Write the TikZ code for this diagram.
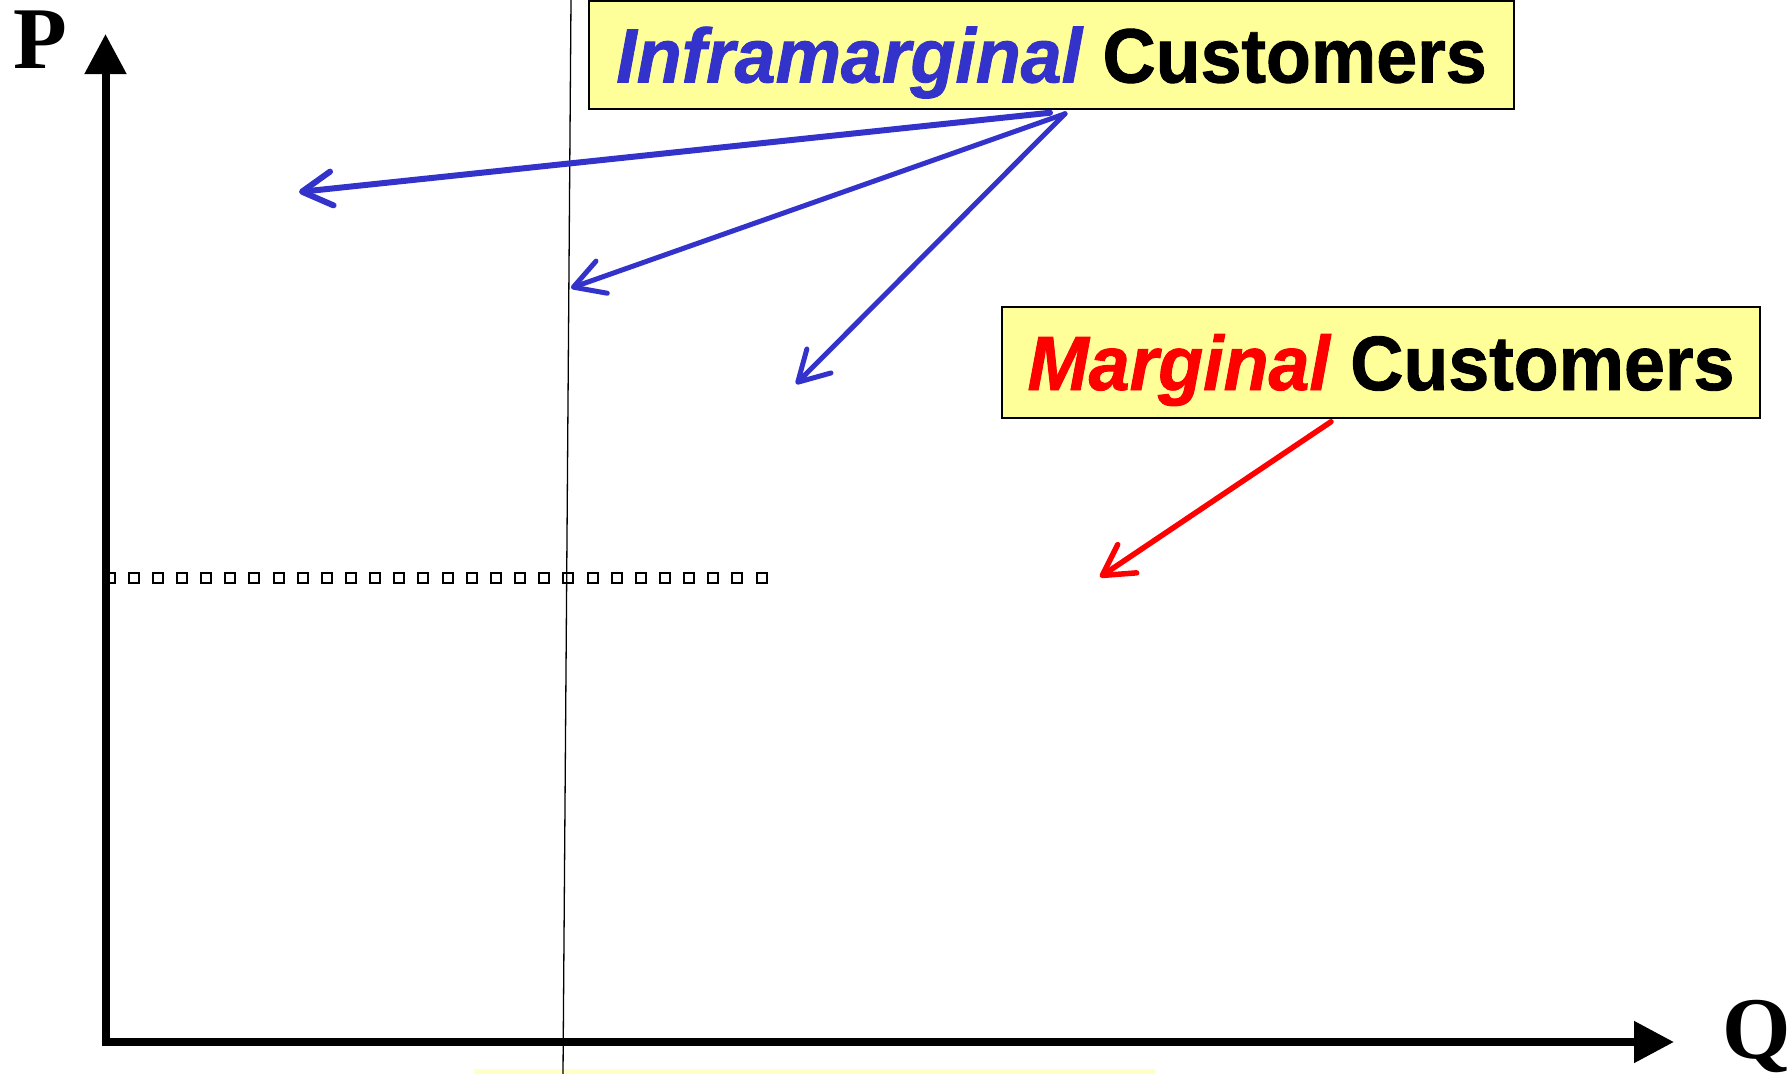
\documentclass[tikz,border=0pt]{standalone}
\usepackage{fontspec}
\usetikzlibrary{arrows.meta,calc}
\newfontfamily\labelfont[FakeStretch=0.955,FakeBold=1.2]{Liberation Sans}
\newfontfamily\axisfont{Liberation Serif}
\definecolor{infblue}{HTML}{3333CC}
\definecolor{notered}{HTML}{FF0000}
\definecolor{noteyellow}{HTML}{FFFF99}
\definecolor{paleyellow}{HTML}{FFFFC8}

\begin{document}
\begin{tikzpicture}[x=1pt,y=-1pt,
  notebox/.style={draw=black, line width=1.5pt, fill=noteyellow, inner sep=0pt,
    text height=55pt, text depth=0pt,
    font=\labelfont\bfseries\fontsize{77}{80}\selectfont},
  pointer/.style={line width=5pt, line cap=round,
    -{Straight Barb[length=30pt,width=34pt,round]}},
  axisline/.style={line width=8pt,
    {Triangle[length=40pt,width=40pt]}-{Triangle[length=40pt,width=40pt]}},
  axislabel/.style={font=\axisfont\bfseries\fontsize{88}{90}\selectfont,
    inner sep=0pt, anchor=base west}]
\useasboundingbox (0,0) rectangle (1792,1074);

% pale strip along the lower edge
\fill[paleyellow] (474,1069) rectangle (1155,1074);

% price level drawn as a row of hollow squares
\foreach \i in {0,...,27}
  \draw[line width=2pt] ({104.5+\i*24.15},572.5) rectangle ++(10,10.5);

% axes
\coordinate (ytip) at (105.5,34);
\coordinate (xtip) at (1674,1042);
\draw[axisline] (ytip) |- (xtip);
\node[axislabel] (plabel) at (13,68) {P};
\node[axislabel] (qlabel) at (1722,1058) {Q};

% thin vertical line
\coordinate (vtop) at (571,0);
\coordinate (vbot) at (563,1074);
\draw[line width=1.3pt] (vtop) -- (vbot);

% labels
\node[notebox, minimum width=925pt, minimum height=108pt] (inf) at (1051.5,55)
  {\textcolor{infblue}{\itshape Inframarginal} Customers};
\node[notebox, minimum width=758pt, minimum height=111pt] (mar) at (1381,362.5)
  {\textcolor{notered}{\itshape Marginal} Customers};

% pointers
\coordinate (t1) at (299,192);
\coordinate (t2) at (571,288);
\coordinate (t3) at (796,384);
\coordinate (t4) at (1100,577);
\draw[pointer, infblue, line width=6pt] ([xshift=-1.5pt,yshift=-3pt]inf.south) -- (t1);
\draw[pointer, infblue] ([xshift=13.5pt,yshift=-4pt]inf.south) -- (t2);
\draw[pointer, infblue] ([xshift=13.5pt,yshift=-4pt]inf.south) -- (t3);
\draw[pointer, notered, line width=5.5pt] ([xshift=-50pt,yshift=-3pt]mar.south) -- (t4);
\end{tikzpicture}
\end{document}
